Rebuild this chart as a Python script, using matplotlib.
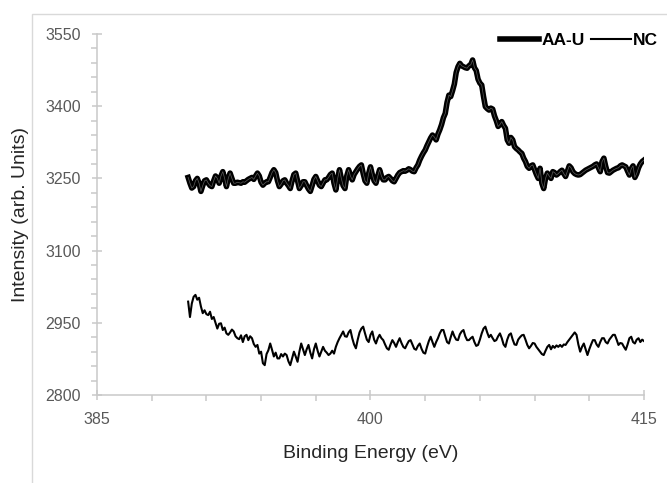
import matplotlib.pyplot as plt
from matplotlib.patches import Rectangle
import numpy as np

plt.rcParams['font.family'] = ['Liberation Sans', 'DejaVu Sans']

# N 1s region, 0.1 eV steps from 390 to 415 eV
aa_u = [
    3252, 3240, 3230, 3233, 3245, 3250, 3240, 3223, 3235, 3245,
    3247, 3240, 3235, 3233, 3245, 3255, 3250, 3240, 3255, 3264,
    3250, 3233, 3250, 3261, 3250, 3240, 3240, 3242, 3241, 3240,
    3243, 3242, 3245, 3248, 3250, 3252, 3248, 3255, 3261, 3255,
    3242, 3236, 3240, 3243, 3243, 3252, 3262, 3268, 3262, 3245,
    3233, 3238, 3245, 3247, 3240, 3235, 3229, 3245, 3258, 3261,
    3245, 3229, 3235, 3243, 3243, 3235, 3228, 3223, 3235, 3248,
    3254, 3245, 3236, 3233, 3240, 3247, 3247, 3252, 3258, 3261,
    3240, 3226, 3250, 3268, 3250, 3235, 3229, 3255, 3268, 3255,
    3247, 3258, 3264, 3270, 3275, 3278, 3260, 3245, 3240, 3260,
    3274, 3258, 3245, 3240, 3255, 3268, 3255, 3247, 3247, 3252,
    3254, 3250, 3245, 3243, 3250, 3257, 3262, 3264, 3266, 3265,
    3267, 3270, 3268, 3265, 3264, 3272, 3278, 3288, 3296, 3303,
    3309, 3318, 3326, 3334, 3340, 3336, 3330, 3342, 3351, 3362,
    3376, 3385, 3408, 3423, 3420, 3432, 3446, 3470, 3482, 3489,
    3484, 3482, 3480, 3479, 3484, 3486, 3496, 3480, 3474, 3456,
    3448, 3444, 3420, 3399, 3395, 3392, 3396, 3394, 3380, 3370,
    3358, 3362, 3368, 3360, 3354, 3330, 3323, 3335, 3330, 3316,
    3312, 3309, 3305, 3302, 3292, 3285, 3275, 3271, 3276, 3278,
    3268, 3258, 3250, 3271, 3240, 3229, 3250, 3261, 3255, 3250,
    3264, 3262, 3257, 3260, 3264, 3267, 3260, 3254, 3265, 3276,
    3272, 3264, 3260, 3258, 3257, 3258, 3261, 3264, 3267, 3269,
    3271, 3273, 3275, 3278, 3280, 3272, 3264, 3285, 3292, 3275,
    3262, 3261, 3264, 3267, 3269, 3271, 3272, 3276, 3278, 3276,
    3274, 3265, 3257, 3270, 3276, 3252, 3260, 3272, 3280, 3285,
    3288,
]

nc = [
    2994, 2962, 2990, 3004, 3008, 2998, 3002, 2984, 2970, 2976,
    2968, 2966, 2973, 2958, 2962, 2950, 2938, 2948, 2949, 2935,
    2940, 2928, 2925, 2930, 2936, 2932, 2922, 2918, 2916, 2924,
    2910, 2922, 2925, 2914, 2922, 2918, 2906, 2900, 2904, 2886,
    2890, 2866, 2862, 2885, 2893, 2907, 2894, 2880, 2888, 2876,
    2876, 2885, 2880, 2886, 2883, 2870, 2862, 2876, 2890, 2880,
    2869, 2890, 2907, 2895, 2883, 2895, 2904, 2888, 2876, 2895,
    2907, 2892, 2880, 2890, 2900, 2892, 2888, 2883, 2886, 2892,
    2886, 2900, 2910, 2918, 2925, 2932, 2922, 2921, 2930, 2935,
    2918, 2905, 2897, 2915, 2930, 2938, 2942, 2928, 2915, 2910,
    2925, 2932, 2915, 2907, 2918, 2925, 2918, 2914, 2905, 2897,
    2894, 2905, 2914, 2908, 2900, 2910, 2918, 2908, 2900, 2897,
    2905, 2912, 2914, 2905, 2896, 2894, 2902, 2907, 2896, 2888,
    2886, 2900, 2912, 2921, 2910, 2900, 2910, 2918, 2928, 2935,
    2935, 2922, 2910, 2907, 2920, 2932, 2922, 2915, 2914, 2926,
    2932, 2935, 2922, 2914, 2914, 2918, 2921, 2910, 2902, 2904,
    2915, 2928, 2938, 2942, 2930, 2920, 2925, 2918, 2912, 2914,
    2922, 2928, 2918, 2905, 2900, 2915, 2925, 2928, 2915, 2905,
    2904, 2915, 2920, 2924, 2925, 2915, 2904, 2897, 2902, 2908,
    2907, 2900, 2895, 2890, 2885, 2883, 2892, 2900, 2904, 2895,
    2902, 2898, 2903, 2900, 2904, 2900, 2905, 2904, 2910, 2915,
    2920, 2925, 2930, 2925, 2905, 2890, 2900, 2907, 2895, 2883,
    2895, 2905, 2914, 2914, 2905, 2900, 2910, 2918, 2918, 2910,
    2907, 2915, 2920, 2925, 2925, 2915, 2904, 2908, 2907, 2900,
    2894, 2905, 2918, 2921, 2910, 2907, 2915, 2918, 2910, 2915,
    2912,
]

energy = np.linspace(390, 415, len(aa_u))
energy_nc = np.linspace(390, 415, len(nc))

axis_grey = '#c9c9c9'
label_grey = '#595959'

fig = plt.figure(figsize=(6.67, 4.83), dpi=100)
ax = fig.add_axes([0.1454, 0.1822, 0.8201, 0.7474])

ax.plot(energy, aa_u, color='black', lw=3.0, solid_joinstyle='round', label='AA-U')
ax.plot(energy, aa_u, color='#9a9a9a', lw=0.5, alpha=0.6)
ax.plot(energy_nc, nc, color='black', lw=1.5, label='NC')

ax.set_xlim(385, 415)
ax.set_ylim(2800, 3550)
ax.set_xticks(np.arange(385, 416, 15))
ax.set_xticks(np.arange(385, 416, 3), minor=True)
ax.set_yticks(np.arange(2800, 3551, 150))
ax.set_yticks(np.arange(2800, 3551, 30), minor=True)

for side in ('top', 'right'):
    ax.spines[side].set_visible(False)
for side in ('left', 'bottom'):
    ax.spines[side].set_color(axis_grey)
    ax.spines[side].set_linewidth(1.1)

ax.tick_params(which='major', direction='inout', length=7, width=1.1,
               color=axis_grey, labelcolor=label_grey, labelsize=11.5)
ax.tick_params(which='minor', direction='out', length=4, width=1.1, color=axis_grey)
ax.tick_params(axis='x', which='major', pad=9)
ax.tick_params(axis='y', which='major', pad=8)

ax.set_xlabel('Binding Energy (eV)', fontsize=14, color='#262626', labelpad=13)
ax.set_ylabel('Intensity (arb. Units)', fontsize=14, color='#262626', labelpad=12)

handles, labels = ax.get_legend_handles_labels()
handles[0].set_linewidth(4)
leg = fig.legend(handles[:2], labels[:2], loc='upper right', ncol=2,
                 bbox_to_anchor=(1.01, 0.965), frameon=False,
                 handlelength=2.3, handletextpad=0.1, columnspacing=0.4,
                 prop={'weight': 'bold', 'size': 12.5})

# light frame around the chart area
fig.add_artist(Rectangle((0.048, -0.05), 1.0, 0.05 + 0.971, transform=fig.transFigure,
                         fill=False, edgecolor='#d9d9d9', lw=1.0))

fig.savefig('out.png', dpi=100)
